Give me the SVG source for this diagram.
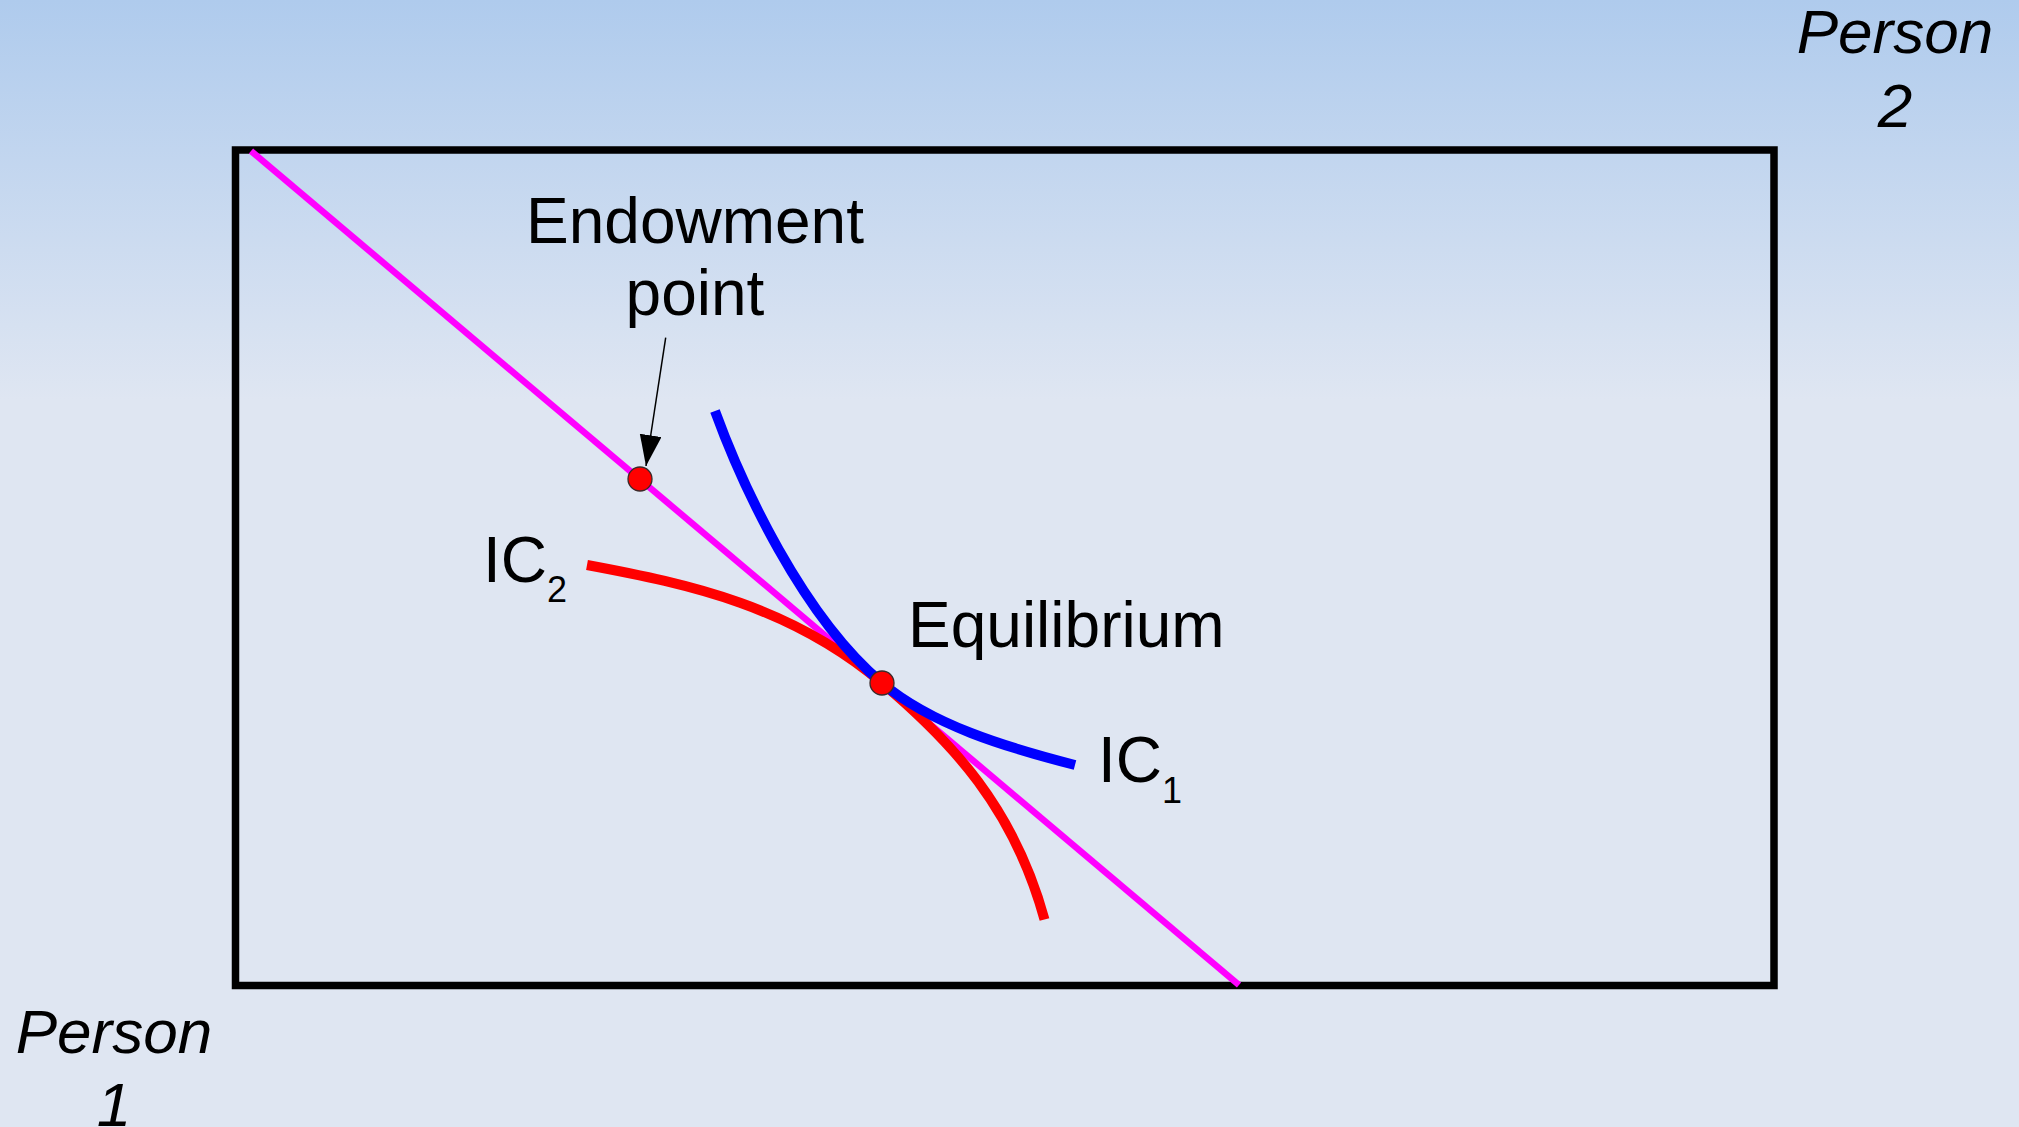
<svg xmlns="http://www.w3.org/2000/svg" width="2019" height="1127" viewBox="0 0 2019 1127">
  <defs>
    <linearGradient id="bg" x1="0" y1="0" x2="0" y2="400" gradientUnits="userSpaceOnUse">
      <stop offset="0" stop-color="#afcbed"/>
      <stop offset="1" stop-color="#dfe6f2"/>
    </linearGradient>
    <marker id="arrow" markerUnits="userSpaceOnUse" markerWidth="32" markerHeight="24" refX="31" refY="11" orient="auto">
      <path d="M0,0 L31,11 L0,22 Z" fill="#000"/>
    </marker>
    <style>
      .t { font-family: "Liberation Sans", Arial, sans-serif; font-size: 64px; fill: #000; }
      .it { font-style: italic; font-size: 62px; }
      .sub { font-size: 36px; }
      .curve { fill: none; stroke-width: 10; stroke-linecap: butt; }
      .pt { fill: #ff0000; stroke: #3a2a2a; stroke-width: 1.3; }
    </style>
  </defs>
  <rect x="0" y="0" width="2019" height="1127" fill="url(#bg)"/>

  <g id="box">
    <rect x="235.5" y="150" width="1538.5" height="835.5" fill="none" stroke="#000" stroke-width="7.5"/>
  </g>

  <g id="connectors">
    <line id="budget-line" x1="251" y1="151" x2="1239" y2="985" stroke="#ff00ff" stroke-width="6.5"/>
    <path id="ic2-curve" class="curve" stroke="#ff0000" d="M587,565 C692,584.5 792,607 882,683 C952,742 1014,808 1044.5,919.5"/>
    <path id="ic1-curve" class="curve" stroke="#0000ff" d="M715,411 C742,485 802,615.5 882,683 C932,725 1005,747 1075,765"/>
    <line id="endowment-arrow" x1="665.7" y1="337.7" x2="646" y2="466" stroke="#000" stroke-width="1.5" marker-end="url(#arrow)"/>
  </g>

  <g id="endowment">
    <circle class="pt" cx="640" cy="479" r="12"/>
    <text class="t" x="695" y="243" text-anchor="middle">Endowment</text>
    <text class="t" x="695" y="315" text-anchor="middle">point</text>
  </g>

  <g id="equilibrium">
    <circle class="pt" cx="882" cy="683" r="12"/>
    <text class="t" x="908" y="647">Equilibrium</text>
  </g>

  <g id="ic2-label">
    <text class="t" x="483" y="582">IC<tspan class="sub" dy="20">2</tspan></text>
  </g>

  <g id="ic1-label">
    <text class="t" x="1098" y="782">IC<tspan class="sub" dy="21">1</tspan></text>
  </g>

  <g id="person2">
    <text class="t it" x="1895" y="53" text-anchor="middle">Person</text>
    <text class="t it" x="1895" y="127" text-anchor="middle">2</text>
  </g>

  <g id="person1">
    <text class="t it" x="114" y="1053" text-anchor="middle">Person</text>
    <text class="t it" x="114" y="1126" text-anchor="middle">1</text>
  </g>
</svg>
